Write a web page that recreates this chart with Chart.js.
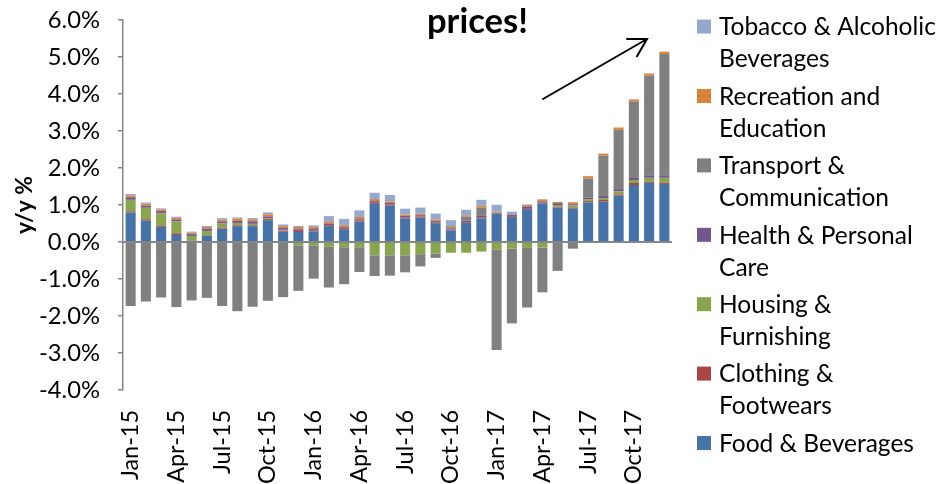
<!DOCTYPE html>
<html><head><meta charset="utf-8">
<script src="https://cdn.jsdelivr.net/npm/chart.js@4.4.1/dist/chart.umd.min.js"></script>
<style>html,body{margin:0;padding:0;background:#fff;}#wrap{width:941px;height:484px;}</style>
</head><body><div id="wrap"><canvas id="c" width="941" height="484"></canvas></div>
<script>
const months = ["Jan-15","Feb-15","Mar-15","Apr-15","May-15","Jun-15","Jul-15","Aug-15","Sep-15","Oct-15","Nov-15","Dec-15",
"Jan-16","Feb-16","Mar-16","Apr-16","May-16","Jun-16","Jul-16","Aug-16","Sep-16","Oct-16","Nov-16","Dec-16",
"Jan-17","Feb-17","Mar-17","Apr-17","May-17","Jun-17","Jul-17","Aug-17","Sep-17","Oct-17","Nov-17","Dec-17"];

const food = [0.80,0.58,0.41,0.19,0.03,0.17,0.36,0.43,0.43,0.59,0.28,0.27,
0.28,0.43,0.33,0.55,1.03,0.98,0.63,0.66,0.51,0.31,0.52,0.64,
0.77,0.68,0.89,1.04,0.93,0.90,1.07,1.09,1.25,1.54,1.60,1.57];
const clothing = [0.03,0.035,0.035,0.045,0.01,0.01,0.03,0.02,0.02,0.03,0.03,0.03,
0.025,0.025,0.025,0.03,0.03,0.03,0.03,0.03,0.02,0.025,0.02,0.03,
0.01,0.025,0.025,0.02,0.025,0.03,0.035,0.045,0.035,0.055,0.035,0.035];
const housing = [0.31,0.31,0.33,0.32,0.12,0.12,0.11,0.065,0.04,0.02,0.02,-0.09,
-0.09,-0.13,-0.14,-0.14,-0.36,-0.36,-0.36,-0.33,-0.31,-0.29,-0.29,-0.26,
-0.21,-0.18,-0.16,-0.15,0.045,0.055,0.055,0.055,0.08,0.08,0.10,0.13];
const health = [0.07,0.06,0.06,0.055,0.05,0.06,0.055,0.055,0.07,0.05,0.05,0.045,
0.045,0.045,0.045,0.035,0.045,0.045,0.045,0.035,0.035,0.03,0.035,0.035,
0.01,0.035,0.045,0.035,0.05,0.035,0.045,0.055,0.065,0.055,0.065,0.065];
const transport = [-1.73,-1.61,-1.50,-1.76,-1.58,-1.51,-1.73,-1.87,-1.75,-1.59,-1.49,-1.23,
-0.90,-1.10,-1.00,-0.67,-0.56,-0.55,-0.46,-0.33,-0.12,0.035,0.11,0.22,
-2.71,-2.02,-1.61,-1.21,-0.78,-0.18,0.51,1.09,1.60,2.07,2.70,3.28];
const recreation = [0.05,0.05,0.045,0.045,0.04,0.045,0.055,0.06,0.055,0.06,0.05,0.06,
0.055,0.06,0.055,0.06,0.055,0.045,0.035,0.045,0.045,0.03,0.035,0.055,
0.035,0.02,0.045,0.055,0.035,0.055,0.065,0.055,0.065,0.055,0.055,0.065];
const tobacco = [0.04,0.035,0.03,0.03,0.03,0.03,0.035,0.035,0.035,0.05,0.045,0.03,
0.045,0.14,0.17,0.18,0.17,0.17,0.16,0.16,0.16,0.16,0.15,0.16,
0.18,0.06,0.01,0.01,0,0,0,0,0,0,0,0];

const seriesNames = ["Food & Beverages","Clothing & Footwears","Housing & Furnishing","Health & Personal Care",
"Transport & Communication","Recreation and Education","Tobacco & Alcoholic Beverages"];
const legendLines = [["Food & Beverages"],["Clothing &","Footwears"],["Housing &","Furnishing"],["Health & Personal","Care"],
["Transport &","Communication"],["Recreation and","Education"],["Tobacco & Alcoholic","Beverages"]];
const colors = ["#4572A7","#AA4643","#89A54E","#71588F","#808080","#DB843D","#93A9CF"];
const seriesValues = [food, clothing, housing, health, transport, recreation, tobacco];
const yMin = -4, yMax = 6, yStep = 1;
const annotationText = "prices!";
const yTitle = "y/y %";

const FAM = "Lato";
const mctx = document.createElement('canvas').getContext('2d');
function fit(text, target, weight){ mctx.font = weight + " 100px " + FAM; return 100*target/mctx.measureText(text).width; }
const legendSize = fit("Tobacco & Alcoholic", 217, "normal");
const yTickSize = fit("-4.0%", 61, "normal");
const xTickSize = fit("Jan-15", 70, "normal");
const titleSize = fit(annotationText, 101, "bold");
const yTitleSize = fit(yTitle, 58, "bold");

const datasets = seriesValues.map((vals, i) => ({
  label: seriesNames[i], data: vals, backgroundColor: colors[i], borderWidth: 0,
  barPercentage: 0.66, categoryPercentage: 1.0, stack: 's'
}));

const overlay = {
  id: 'overlay',
  afterDatasetsDraw(chart){
    const {ctx, chartArea, scales} = chart;
    const y0 = scales.y.getPixelForValue(0);
    ctx.save();
    ctx.strokeStyle = '#868686'; ctx.lineWidth = 2;
    ctx.beginPath(); ctx.moveTo(chartArea.left, y0); ctx.lineTo(chartArea.right, y0); ctx.stroke();
    ctx.restore();
  },
  afterDraw(chart){
    const ctx = chart.ctx;
    ctx.save();
    const lx = 697, box = 14, tx = 719, firstY = 26.6, itemH = 69.4, lineH = 32;
    ctx.font = legendSize + "px " + FAM;
    ctx.textBaseline = 'alphabetic'; ctx.textAlign = 'left'; ctx.fillStyle = '#000';
    for (let k = 0; k < legendLines.length; k++){
      const idx = legendLines.length - 1 - k;
      const cy = firstY + k*itemH;
      ctx.fillStyle = colors[idx];
      ctx.fillRect(lx, cy - box/2, box, box);
      ctx.fillStyle = '#000';
      legendLines[idx].forEach((ln, j) => ctx.fillText(ln, tx, cy + j*lineH + 0.36*legendSize));
    }
    ctx.font = "bold " + titleSize + "px " + FAM;
    ctx.fillText(annotationText, 427, 33);
    const x1 = 543, y1 = 99, x2 = 647, y2 = 39;
    const a = Math.atan2(y2 - y1, x2 - x1), hl = 20;
    ctx.strokeStyle = '#000'; ctx.lineWidth = 2; ctx.lineCap = 'round';
    ctx.beginPath(); ctx.moveTo(x1, y1); ctx.lineTo(x2, y2);
    ctx.moveTo(x2 - hl*Math.cos(a - Math.PI/6), y2 - hl*Math.sin(a - Math.PI/6)); ctx.lineTo(x2, y2);
    ctx.lineTo(x2 - hl*Math.cos(a + Math.PI/6), y2 - hl*Math.sin(a + Math.PI/6));
    ctx.stroke();
    ctx.restore();
  }
};

new Chart(document.getElementById('c'), {
  type: 'bar',
  data: { labels: months, datasets },
  options: {
    responsive: false, animation: false, devicePixelRatio: 1,
    layout: { padding: { top: 20, right: 269, left: 0, bottom: 0 } },
    plugins: { legend: { display: false }, tooltip: { enabled: false }, title: { display: false } },
    scales: {
      x: {
        stacked: true,
        grid: { display: false, drawTicks: false },
        border: { display: false },
        ticks: { autoSkip: false, maxRotation: 90, minRotation: 90, padding: 20, color: '#000',
          font: { family: FAM, size: xTickSize },
          callback: (v, i) => (i % 3 === 0 ? months[i] : '') },
        afterFit: s => { s.height = 94; s.paddingLeft = 0; s.paddingRight = 0; }
      },
      y: {
        stacked: true, min: yMin, max: yMax,
        ticks: { stepSize: yStep, padding: 18, color: '#000', font: { family: FAM, size: yTickSize },
          callback: v => v.toFixed(1) + '%' },
        grid: { drawOnChartArea: false, drawTicks: true, tickLength: 5, color: '#868686', lineWidth: 1.5 },
        border: { display: true, color: '#868686', width: 1.5 },
        title: { display: true, text: yTitle, color: '#000', font: { family: FAM, size: yTitleSize, weight: 'bold' },
          padding: { top: 11, bottom: 0 } },
        afterFit: s => { s.width = 123; s.paddingTop = 0; s.paddingBottom = 0; }
      }
    }
  },
  plugins: [overlay]
});
</script></body></html>
